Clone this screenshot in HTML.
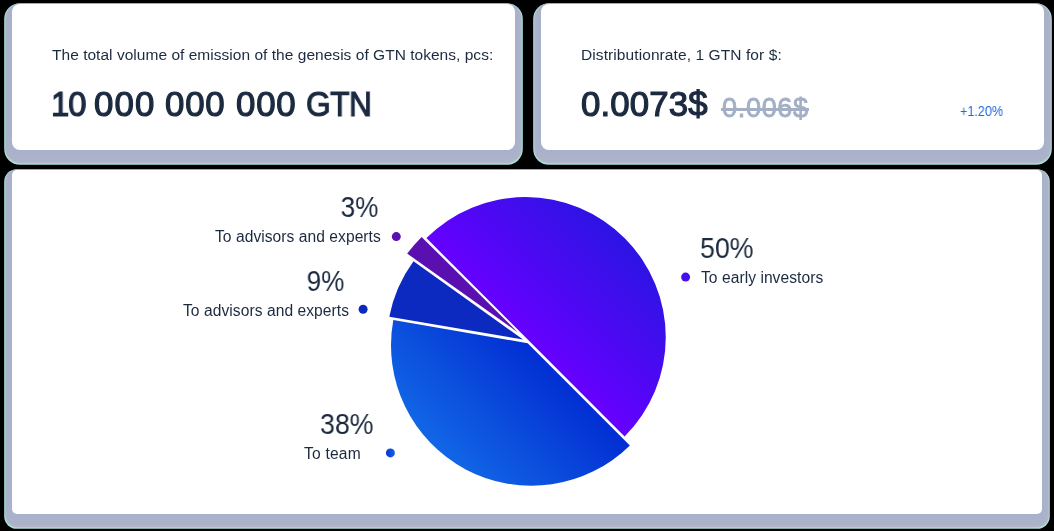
<!DOCTYPE html>
<html><head><meta charset="utf-8">
<style>
html,body{margin:0;padding:0;background:#000;}
body{width:1054px;height:531px;position:relative;overflow:hidden;font-family:"Liberation Sans",sans-serif;color:#1c2a40;}
.card{position:absolute;background:#fff;border-radius:8px;box-shadow:0 3px 0 3px #a8b3cb,0 5.5px 0 5.5px #acb2ca,0 6.4px 0 6.8px #b0b7c3,0 7px 0 7.8px #a8e0e0;}
#c1{left:12px;top:4px;width:503px;height:146px;}
#c2{left:541px;top:4px;width:503px;height:146px;}
#c3{left:12px;top:170px;width:1030px;height:344px;border-radius:5px;}
.t{position:absolute;white-space:nowrap;line-height:1;transform-origin:0 0;will-change:transform;}
.r{transform-origin:100% 0;}
</style></head><body>
<div class="card" id="c1"></div>
<div class="card" id="c2"></div>
<div class="card" id="c3"></div>

<div class="t" id="t1" style="left:52.3px;top:46.9px;font-size:15.5px;letter-spacing:0.03px;">The total volume of emission of the genesis of GTN tokens, pcs:</div>
<div class="t" id="g1" style="left:51.2px;font-size:34.8px;-webkit-text-stroke:1.2px #1c2a40;top:86.9px;letter-spacing:-1px;transform:scaleX(0.94);">10</div>
<div class="t" id="g2" style="left:94px;font-size:34.8px;-webkit-text-stroke:1.2px #1c2a40;top:86.9px;letter-spacing:1.1px;">000</div>
<div class="t" id="g3" style="left:165px;font-size:34.8px;-webkit-text-stroke:1.2px #1c2a40;top:86.9px;letter-spacing:0.8px;">000</div>
<div class="t" id="g4" style="left:236px;font-size:34.8px;-webkit-text-stroke:1.2px #1c2a40;top:86.9px;letter-spacing:0.8px;">000</div>
<div class="t" id="g5" style="left:306px;font-size:34.8px;-webkit-text-stroke:1.2px #1c2a40;top:86.9px;letter-spacing:-0.5px;transform:scaleX(0.91);">GTN</div>
<div class="t" id="t3" style="left:581px;top:46.9px;font-size:15.5px;letter-spacing:0.09px;">Distributionrate, 1 GTN for $:</div>
<div class="t" id="t4" style="left:581px;top:86.9px;font-size:34.8px;-webkit-text-stroke:1.2px #1c2a40;letter-spacing:0.15px;">0.0073$</div>
<div class="t" id="t5" style="left:721.5px;top:94.7px;font-size:27px;color:#a3afc4;-webkit-text-stroke:0.8px #a3afc4;letter-spacing:0.7px;">0.006$</div>
<div id="strike" style="position:absolute;left:721px;top:107.8px;width:87.7px;height:2.8px;background:#a3afc4;"></div>
<div class="t" id="t6" style="left:959.5px;top:104px;font-size:14px;color:#1f6ae0;transform:scaleX(0.9);">+1.20%</div>

<svg width="1054" height="531" style="position:absolute;left:0;top:0">
<defs>
<linearGradient id="gp" gradientUnits="userSpaceOnUse" x1="525" y1="337" x2="624" y2="238">
<stop offset="0" stop-color="#6600ff"/><stop offset="1" stop-color="#2c14e3"/></linearGradient>
<linearGradient id="gb" gradientUnits="userSpaceOnUse" x1="431" y1="445" x2="532" y2="344">
<stop offset="0" stop-color="#1267e6"/><stop offset="1" stop-color="#022dd2"/></linearGradient>
<linearGradient id="gd" gradientUnits="userSpaceOnUse" x1="386" y1="453" x2="395" y2="453"><stop offset="0" stop-color="#0536d6"/><stop offset="1" stop-color="#1262e6"/></linearGradient>
</defs>
<path d="M426.4 238.1 A140.25 140.25 0 0 1 624.6 436.6 Z" fill="url(#gp)"/>
<path d="M527.7 343.2 L393.3 320.1 A140.4 140.4 0 0 0 629.9 445.4 Z" fill="url(#gb)"/>
<path d="M523.1 339.5 L389.3 316.8 A138 138 0 0 1 413.5 261.3 Z" fill="#0d2ac0"/>
<path d="M517.9 332.4 L407.2 253.6 A138 138 0 0 1 421.6 236.9 Z" fill="#5a10b0"/>
<circle cx="396.3" cy="236.6" r="4.5" fill="#5a10b0"/>
<circle cx="363.1" cy="309.2" r="4.5" fill="#0d2ac0"/>
<circle cx="390.4" cy="452.9" r="4.5" fill="url(#gd)"/>
<circle cx="685.6" cy="277.1" r="4.5" fill="#4410f2"/>
</svg>

<div class="t r" id="p3" style="right:675.2px;top:191.8px;font-size:30px;transform:scaleX(0.869);">3%</div>
<div class="t r" id="l3" style="right:673.5px;top:229px;font-size:15.6px;letter-spacing:0.05px;">To advisors and experts</div>
<div class="t r" id="p9" style="right:709.4px;top:266px;font-size:30px;transform:scaleX(0.869);">9%</div>
<div class="t r" id="l9" style="right:705.3px;top:302.5px;font-size:15.6px;letter-spacing:0.06px;">To advisors and experts</div>
<div class="t" id="p38" style="left:320px;top:408.7px;font-size:30px;transform:scaleX(0.892);">38%</div>
<div class="t" id="l38" style="left:304px;top:445.5px;font-size:15.6px;letter-spacing:0.2px;">To team</div>
<div class="t" id="p50" style="left:700.3px;top:233.1px;font-size:30px;transform:scaleX(0.892);">50%</div>
<div class="t" id="l50" style="left:701.3px;top:270.4px;font-size:15.6px;letter-spacing:0.05px;">To early investors</div>
</body></html>
